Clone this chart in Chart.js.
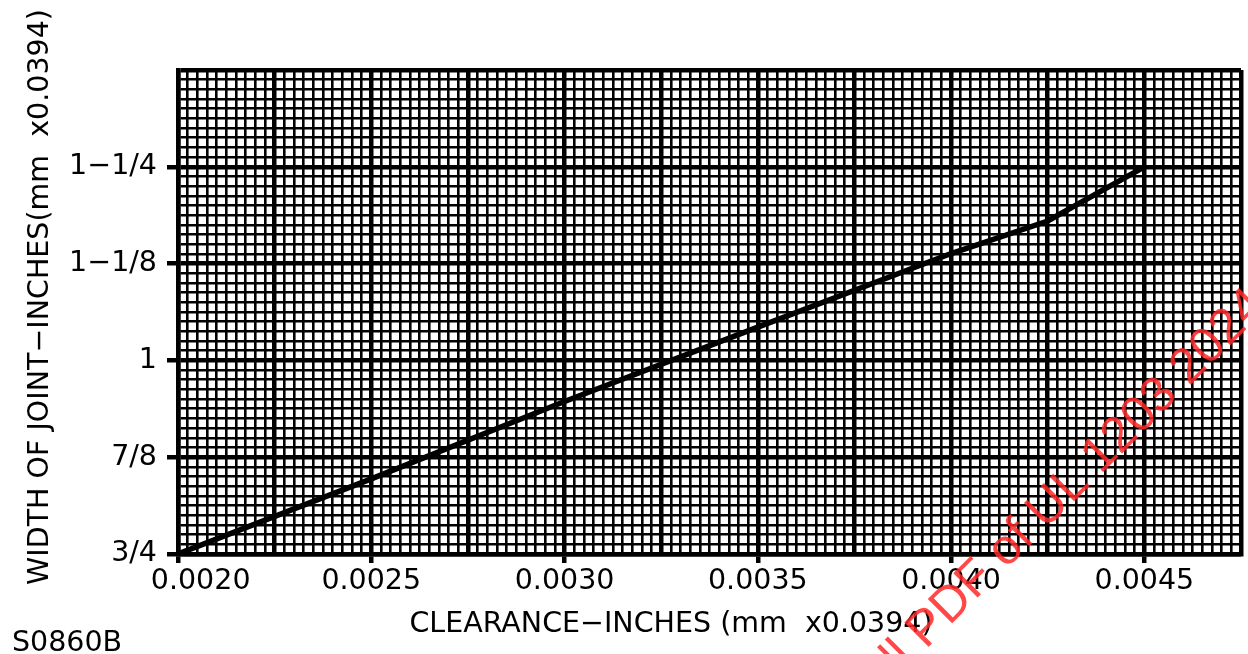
<!DOCTYPE html>
<html><head><meta charset="utf-8">
<script src="https://cdn.jsdelivr.net/npm/chart.js@4"></script>
<style>html,body{margin:0;padding:0;background:#fff;overflow:hidden}#wrap{width:1248px;height:654px}</style>
</head><body><div id="wrap"><canvas id="c" width="1248" height="654"></canvas></div>
<script>
// ---- data ----
const clearance = [0.0020, 0.0025, 0.0030, 0.0035, 0.0040, 0.00425, 0.0045];
const jointWidth = [0.75, 0.847, 0.947, 1.043, 1.138, 1.180, 1.25];
const xTickLabels = ['0.0020', '0.0025', '0.0030', '0.0035', '0.0040', '0.0045'];
const yTickLabels = ['3/4', '7/8', '1', '1\u22121/8', '1\u22121/4'];
const xTitle = 'CLEARANCE\u2212INCHES (mm  x0.0394)';
const yTitle = 'WIDTH OF JOINT\u2212INCHES(mm  x0.0394)';
const figureId = 'S0860B';
const watermark = 'view the full PDF of UL 1203 2024';

// ---- axis ranges / grid divisions ----
const X_MIN = 0.0020, X_MAX = 0.00475, X_DIV = 110;  // minor step 0.000025
const Y_MIN = 0.75, Y_MAX = 1.375, Y_DIV = 50;        // minor step 0.0125

const FONT = 'DejaVu Sans';
const FS = 28.5;

function gridTicks(min, max, n) {
  const t = [];
  for (let i = 0; i <= n; i++) t.push({ value: min + (max - min) * i / n });
  return t;
}

const textPlugin = {
  id: 'texts',
  afterDraw(chart) {
    const c = chart.ctx;
    c.save();
    c.fillStyle = '#000';
    c.font = FS + 'px "' + FONT + '"';
    c.textBaseline = 'alphabetic';
    c.textAlign = 'center';
    c.fillText(xTitle, 671, 632);
    c.save();
    c.translate(48, 297);
    c.rotate(-Math.PI / 2);
    c.fillText(yTitle, 0, 0);
    c.restore();
    c.textAlign = 'left';
    c.fillText(figureId, 12, 651);
    // watermark
    c.save();
    c.translate(1258, 298);
    c.rotate(-Math.PI / 4);
    c.font = '50px "Liberation Sans"';
    c.fillStyle = 'rgba(255,40,40,0.85)';
    c.textAlign = 'right';
    c.textBaseline = 'middle';
    c.fillText(watermark, 0, 0);
    c.restore();
    c.restore();
  }
};

new Chart(document.getElementById('c'), {
  type: 'scatter',
  data: {
    datasets: [{
      data: clearance.map((x, i) => ({ x: x, y: jointWidth[i] })),
      showLine: true,
      borderColor: '#000',
      borderWidth: 5.5,
      pointRadius: 0,
      tension: 0,
      fill: false
    }]
  },
  options: {
    responsive: false,
    animation: false,
    devicePixelRatio: 1,
    layout: { padding: { top: 70, right: 7, left: 0, bottom: 0 } },
    plugins: { legend: { display: false }, tooltip: { enabled: false } },
    scales: {
      x: {
        type: 'linear', position: 'bottom', min: X_MIN, max: X_MAX,
        afterBuildTicks: s => { s.ticks = gridTicks(X_MIN, X_MAX, X_DIV); },
        afterFit: s => { s.height = 100; },
        ticks: {
          autoSkip: false, maxRotation: 0, minRotation: 0, padding: 1, color: '#000',
          font: { family: FONT, size: FS },
          callback: (v, i) => (i % 20 === 0 && i / 20 < xTickLabels.length)
            ? (i === 0 ? '     ' + xTickLabels[0] : xTickLabels[i / 20]) : ''
        },
        grid: {
          color: '#000',
          lineWidth: ctx => (ctx.index % 10 === 0 ? 4.5 : 2.6),
          tickLength: 9,
          tickWidth: 4.5,
          tickColor: ctx => (ctx.index % 20 === 0 && ctx.index <= 100) ? '#000' : 'rgba(0,0,0,0)'
        },
        border: { display: true, width: 4.5, color: '#000' }
      },
      y: {
        type: 'linear', position: 'left', min: Y_MIN, max: Y_MAX,
        afterBuildTicks: s => { s.ticks = gridTicks(Y_MIN, Y_MAX, Y_DIV); },
        afterFit: s => { s.width = 178; },
        ticks: {
          autoSkip: false, padding: 10, color: '#000',
          font: { family: FONT, size: FS },
          callback: (v, i) => (i % 10 === 0 && i / 10 < yTickLabels.length) ? yTickLabels[i / 10] : ''
        },
        grid: {
          color: '#000',
          lineWidth: ctx => (ctx.index % 10 === 0 ? 4.5 : 2.6),
          tickLength: 11,
          tickWidth: 4.5,
          tickColor: ctx => (ctx.index % 10 === 0 && ctx.index <= 40) ? '#000' : 'rgba(0,0,0,0)'
        },
        border: { display: true, width: 4.5, color: '#000' }
      }
    }
  },
  plugins: [textPlugin]
});
</script></body></html>
